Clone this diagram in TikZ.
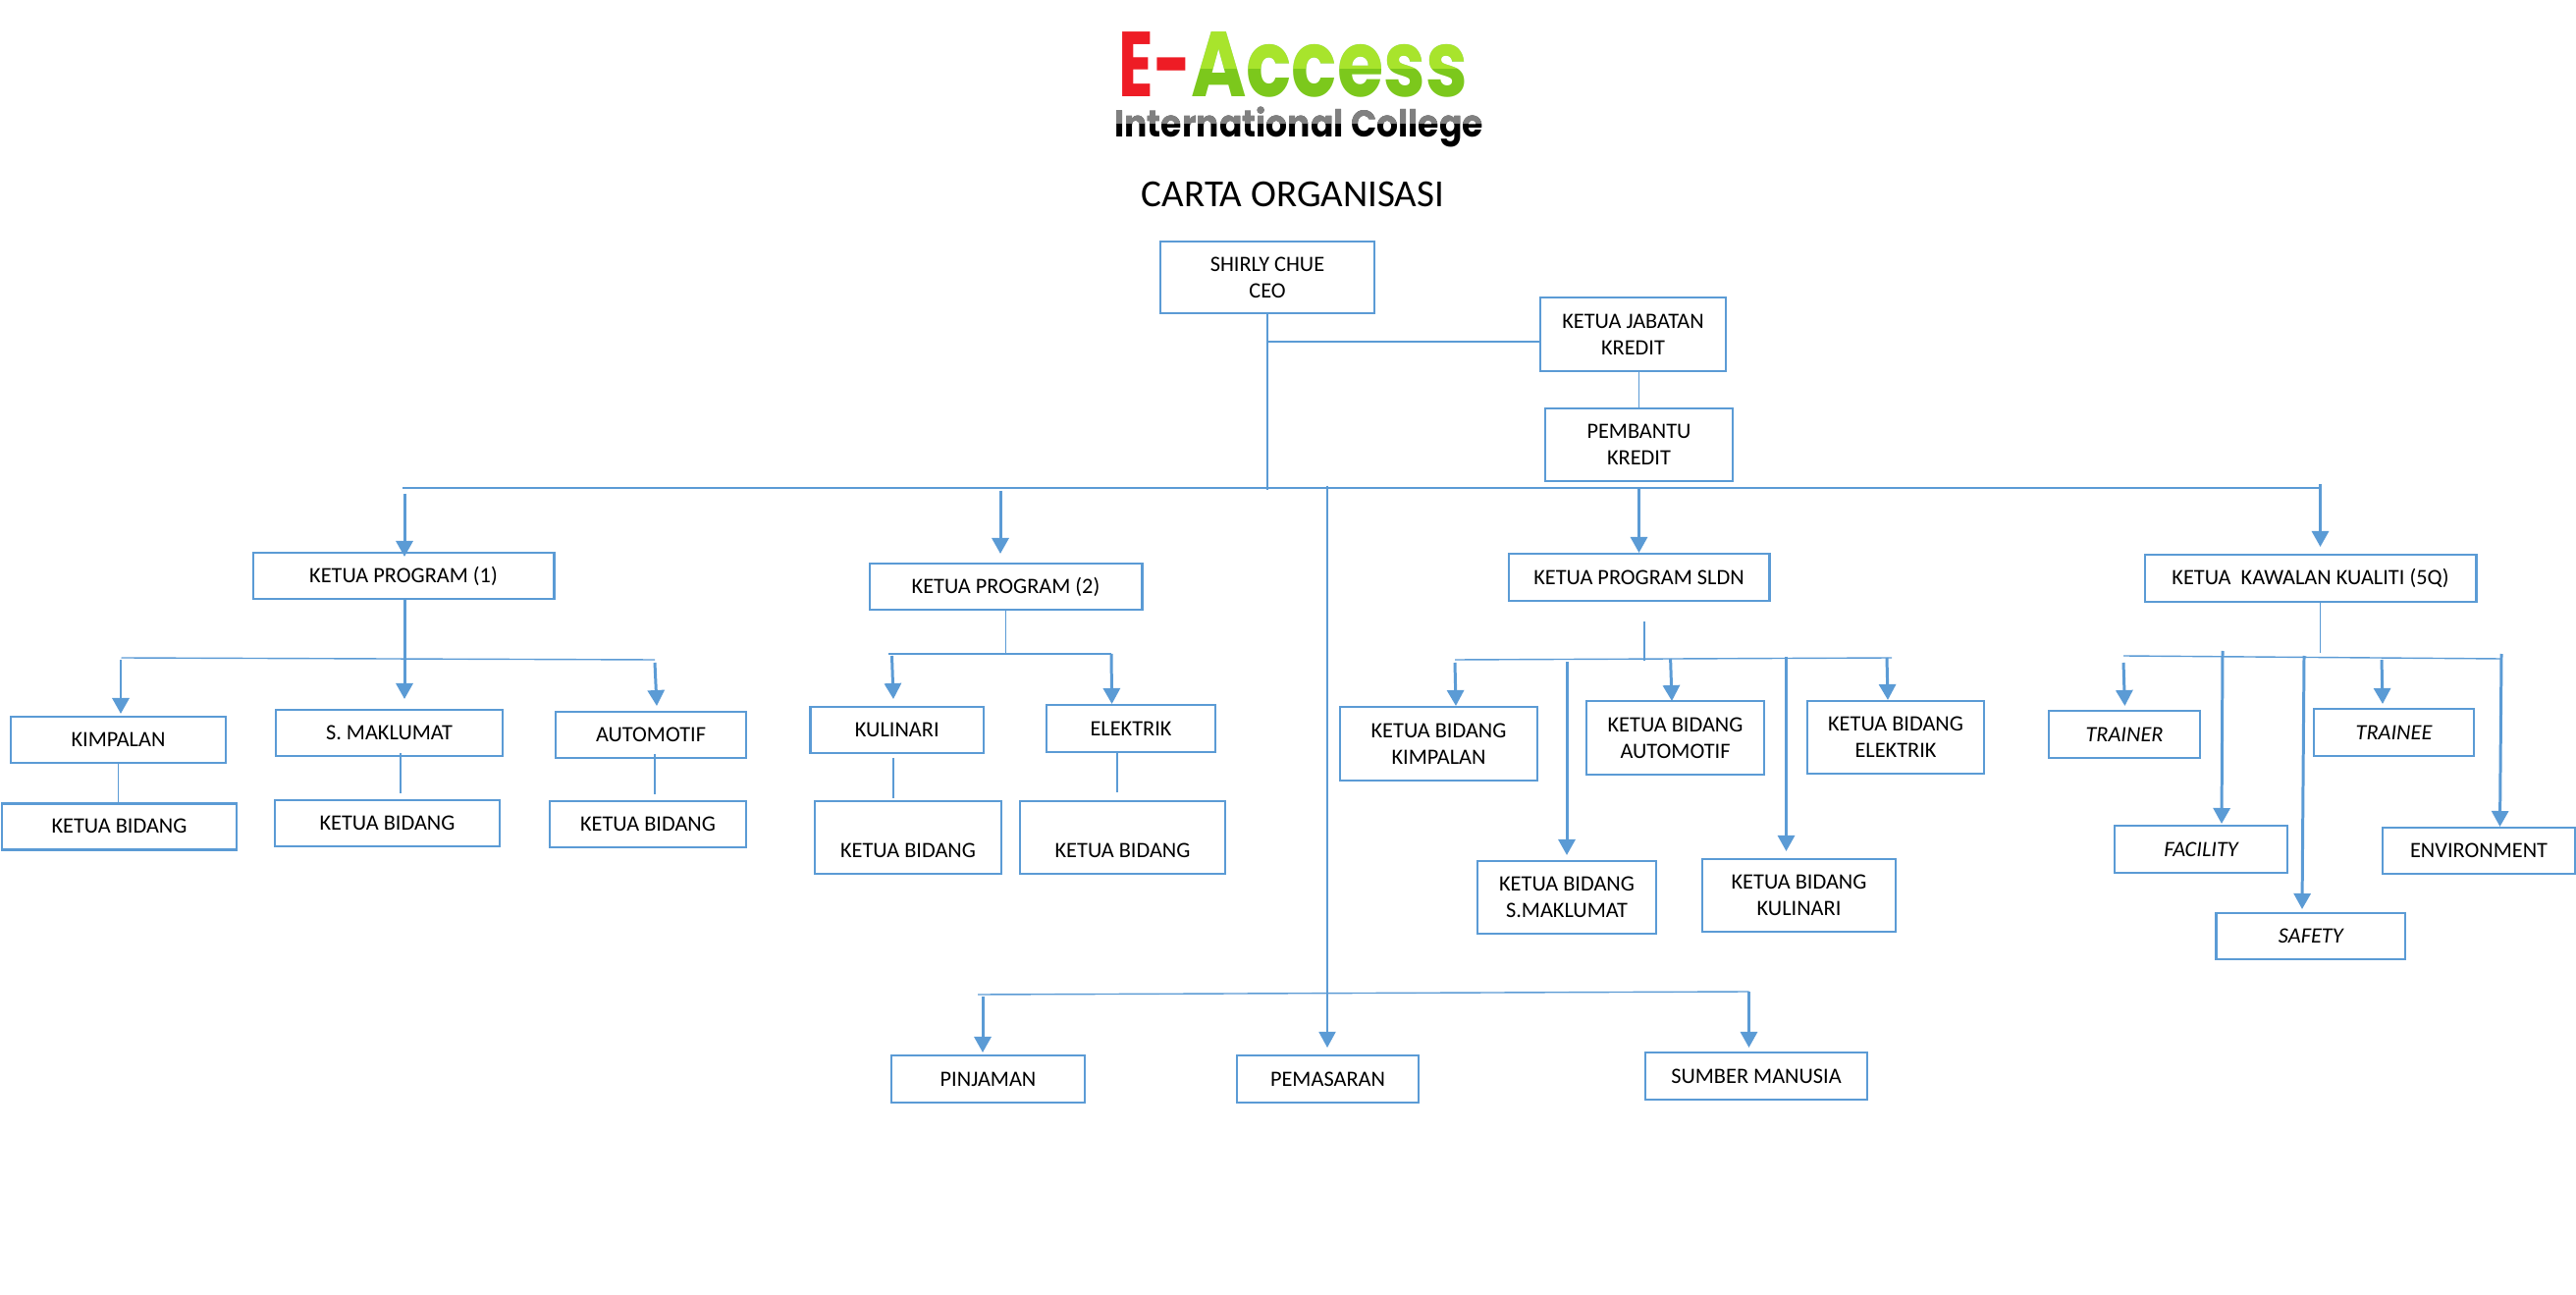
\documentclass[tikz,border=0pt]{standalone}
\usepackage{fontspec}
\setmainfont{Carlito}
\newfontfamily\logofont{Poppins}
\usetikzlibrary{arrows.meta}
\definecolor{biru}{HTML}{5B9BD5}
\definecolor{hijauTua}{HTML}{7CC81C}
\definecolor{hijauMuda}{HTML}{A8E42C}
\definecolor{merahLogo}{HTML}{EE1C25}
\tikzset{
  kotak/.style 2 args={draw=biru, line width=0.8pt, inner sep=0pt, outer sep=0pt, align=center,
    font=\fontsize{6.35}{7.6}\selectfont, minimum width=#1cm, minimum height=#2cm},
  garis/.style={draw=biru, line width=0.4pt},
  panah/.style={draw=biru, line width=0.85pt, -{Triangle[length=1.6mm,width=1.7mm]}},
  panahNipis/.style={draw=biru, line width=0.5pt, -{Triangle[length=1.6mm,width=1.7mm]}}
}
\begin{document}
\begin{tikzpicture}[x=0.01cm, y=-0.01cm]
    \useasboundingbox (0,0) rectangle (2624,1319);
    \fill[white] (0,0) rectangle (2624,1319);

    % 1. Logo dan tajuk
    \node[anchor=base west, text=merahLogo, text depth=0pt, font=\logofont\bfseries\fontsize{26.7}{30}\selectfont, xscale=0.70, transform shape] (logoE) at (1131,99) {E-};
    \node[anchor=base west, text=hijauTua, text depth=0pt, font=\logofont\bfseries\fontsize{26.7}{30}\selectfont, xscale=0.816, transform shape] (logoAccess) at (1203,99) {Access};
    \fill[hijauMuda, blend mode=lighten] (1211,20) rectangle (1510,70);
    \node[anchor=base west, font=\logofont\bfseries\fontsize{10.8}{12}\selectfont, xscale=0.91, transform shape] (logoCollege) at (1124,140) {International College};
    \fill[gray, blend mode=lighten] (1120,108) rectangle (1520,126);
    \node[font=\fontsize{11.1}{13}\selectfont] (tajuk) at (1317,198) {CARTA ORGANISASI};

    % 2. Kotak atasan
    \node[kotak={2.18}{0.73}] (ceo) at (1291,282.5) {SHIRLY CHUE\\CEO};
    \node[kotak={1.89}{0.75}] (jabatan) at (1663.5,340.5) {KETUA JABATAN\\KREDIT};
    \node[kotak={1.91}{0.74}] (pembantu) at (1669.5,453) {PEMBANTU\\KREDIT};

    % 3. Ketua program
    \node[kotak={3.06}{0.47}] (prog1) at (411,586.5) {KETUA PROGRAM (1)};
    \node[kotak={2.77}{0.47}] (prog2) at (1024.5,597.5) {KETUA PROGRAM (2)};
    \node[kotak={2.65}{0.48}] (sldn) at (1669.5,588) {KETUA PROGRAM SLDN};
    \node[kotak={3.37}{0.48}] (kualiti) at (2353.5,589) {KETUA\ \ KAWALAN KUALITI (5Q)};

    % 4. Bawah program (1)
    \node[kotak={2.19}{0.47}] (kimpalan) at (120.5,753.5) {KIMPALAN};
    \node[kotak={2.39}{0.47}] (bidKimpalan) at (121.5,841.75) {KETUA BIDANG};
    \node[kotak={2.31}{0.47}] (maklumat) at (396.5,746.5) {S. MAKLUMAT};
    \node[kotak={2.29}{0.47}] (bidMaklumat) at (394.5,838.5) {KETUA BIDANG};
    \node[kotak={1.94}{0.47}] (automotif) at (663,748.5) {AUTOMOTIF};
    \node[kotak={2.00}{0.47}] (bidAutomotif) at (660,839.5) {KETUA BIDANG};

    % 5. Bawah program (2)
    \node[kotak={1.765}{0.47}] (kulinari) at (913.75,743.5) {KULINARI};
    \node[kotak={1.90}{0.74}] (bidKulinari) at (925,853) {\vphantom{K}\\KETUA BIDANG};
    \node[kotak={1.72}{0.48}] (elektrik) at (1152,742) {ELEKTRIK};
    \node[kotak={2.09}{0.74}] (bidElektrik) at (1143.5,853) {\vphantom{K}\\KETUA BIDANG};

    % 6. Bawah program SLDN
    \node[kotak={2.01}{0.75}] (sKimpalan) at (1465.5,757.5) {KETUA BIDANG\\KIMPALAN};
    \node[kotak={1.81}{0.75}] (sAutomotif) at (1706.5,751.5) {KETUA BIDANG\\AUTOMOTIF};
    \node[kotak={1.80}{0.74}] (sElektrik) at (1931,751) {KETUA BIDANG\\ELEKTRIK};
    \node[kotak={1.82}{0.74}] (sMaklumat) at (1596,914) {KETUA BIDANG\\S.MAKLUMAT};
    \node[kotak={1.97}{0.74}] (sKulinari) at (1832.5,912) {KETUA BIDANG\\KULINARI};

    % 7. Bawah kawalan kualiti
    \node[kotak={1.54}{0.48}] (trainer) at (2164,748) {\itshape TRAINER};
    \node[kotak={1.63}{0.48}] (trainee) at (2438.5,746) {\itshape TRAINEE};
    \node[kotak={1.76}{0.48}] (facility) at (2242,865) {\itshape FACILITY};
    \node[kotak={1.925}{0.47}] (safety) at (2353.75,953.5) {\itshape SAFETY};
    \node[kotak={1.96}{0.47}] (environment) at (2525,866.5) {ENVIRONMENT};

    % 8. Barisan bawah
    \node[kotak={1.97}{0.48}] (pinjaman) at (1006.5,1099) {PINJAMAN};
    \node[kotak={1.85}{0.48}] (pemasaran) at (1352.5,1099) {PEMASARAN};
    \node[kotak={2.26}{0.48}] (sumber) at (1789,1096) {SUMBER MANUSIA};

    % 9. Titik hujung garisan
    \coordinate (ceoBawah) at (1291,499);
    \coordinate (ceoCabang) at (1291,348);
    \coordinate (utamaKiri) at (410,497);
    \coordinate (utamaKanan) at (2364,497);
    \coordinate (tengahAtas) at (1352,495);
    \coordinate (tengahTip) at (1352,1067);
    \coordinate (prog1Atas) at (412,503);
    \coordinate (prog1Tip) at (412,567);
    \coordinate (prog2Atas) at (1019,500);
    \coordinate (prog2Tip) at (1019,564);
    \coordinate (sldnAtas) at (1669.5,498);
    \coordinate (sldnTip) at (1669.5,563);
    \coordinate (kualitiAtas) at (2363.5,493);
    \coordinate (kualitiTip) at (2363.5,557);

    \coordinate (p1Kiri) at (123.5,670);
    \coordinate (p1Kanan) at (667,672);
    \coordinate (p1Tip) at (412,712);
    \coordinate (kimAtas) at (123,672);
    \coordinate (kimTip) at (123,727);
    \coordinate (autoAtas) at (667,675);
    \coordinate (autoTip) at (669,719);
    \coordinate (makA) at (408,767);
    \coordinate (makB) at (408,808);
    \coordinate (autoA) at (667,768);
    \coordinate (autoB) at (667,809);

    \coordinate (p2Bawah) at (1024.5,666);
    \coordinate (p2Kiri) at (905,666);
    \coordinate (p2Kanan) at (1132,666);
    \coordinate (kulAtas) at (908.5,668);
    \coordinate (kulTip) at (910,712);
    \coordinate (eleTip) at (1132.6,717);
    \coordinate (kulA) at (910,772);
    \coordinate (kulB) at (910,813);
    \coordinate (eleA) at (1138,766);
    \coordinate (eleB) at (1138,807);

    \coordinate (s3Atas) at (1675,633);
    \coordinate (s3Bawah) at (1675,673);
    \coordinate (s3Kiri) at (1482,672);
    \coordinate (s3Kanan) at (1927,670);
    \coordinate (sKimAtas) at (1482,675);
    \coordinate (sKimTip) at (1483,719);
    \coordinate (sMakAtas) at (1596,674);
    \coordinate (sMakTip) at (1596,871);
    \coordinate (sAutoAtas) at (1701.6,671);
    \coordinate (sAutoTip) at (1703,714);
    \coordinate (sKulAtas) at (1819.5,669);
    \coordinate (sKulTip) at (1819.5,867);
    \coordinate (sEleAtas) at (1922,670);
    \coordinate (sEleTip) at (1923,713);

    \coordinate (kqBawah) at (2363.5,665);
    \coordinate (kqKiri) at (2163,668);
    \coordinate (kqKanan) at (2548,671);
    \coordinate (trnAtas) at (2163,675);
    \coordinate (trnTip) at (2164.4,719);
    \coordinate (facAtas) at (2264,663);
    \coordinate (facTip) at (2263,839);
    \coordinate (safAtas) at (2347,668);
    \coordinate (safTip) at (2345,926);
    \coordinate (treAtas) at (2426,672);
    \coordinate (treTip) at (2427,717);
    \coordinate (envAtas) at (2548,666);
    \coordinate (envTip) at (2546.5,842);

    \coordinate (bawahKiri) at (996,1013);
    \coordinate (bawahKanan) at (1781.5,1010);
    \coordinate (pinAtas) at (1001,1015);
    \coordinate (pinTip) at (1001,1072);
    \coordinate (sumTip) at (1781.5,1067);

    % 10. Garisan nipis
    \draw[garis] (ceo.south) -- (ceoBawah);
    \draw[garis] (ceoCabang) -- (ceoCabang -| jabatan.west);
    \draw[garis] (jabatan.south -| pembantu.north) -- (pembantu.north);
    \draw[garis] (utamaKiri) -- (utamaKanan);
    \draw[garis] (p1Kiri) -- (p1Kanan);
    \draw[garis] (kimpalan.south) -- (bidKimpalan.north -| kimpalan.south);
    \draw[garis] (makA) -- (makB);
    \draw[garis] (autoA) -- (autoB);
    \draw[garis] (prog2.south) -- (p2Bawah);
    \draw[garis] (p2Kiri) -- (p2Kanan);
    \draw[garis] (kulA) -- (kulB);
    \draw[garis] (eleA) -- (eleB);
    \draw[garis] (s3Atas) -- (s3Bawah);
    \draw[garis] (s3Kiri) -- (s3Kanan);
    \draw[garis] (kualiti.south -| kqBawah) -- (kqBawah);
    \draw[garis] (kqKiri) -- (kqKanan);
    \draw[garis] (bawahKiri) -- (bawahKanan);

    % 11. Anak panah
    \draw[panah] (prog1Atas) -- (prog1Tip);
    \draw[panah] (prog2Atas) -- (prog2Tip);
    \draw[panah] (sldnAtas) -- (sldnTip);
    \draw[panah] (kualitiAtas) -- (kualitiTip);
    \draw[panah] (prog1.south -| p1Tip) -- (p1Tip);
    \draw[panah] (kimAtas) -- (kimTip);
    \draw[panah] (autoAtas) -- (autoTip);
    \draw[panah] (kulAtas) -- (kulTip);
    \draw[panah] (p2Kanan) -- (eleTip);
    \draw[panah] (sKimAtas) -- (sKimTip);
    \draw[panah] (sMakAtas) -- (sMakTip);
    \draw[panah] (sAutoAtas) -- (sAutoTip);
    \draw[panah] (sKulAtas) -- (sKulTip);
    \draw[panah] (sEleAtas) -- (sEleTip);
    \draw[panah] (trnAtas) -- (trnTip);
    \draw[panah] (facAtas) -- (facTip);
    \draw[panah] (safAtas) -- (safTip);
    \draw[panah] (treAtas) -- (treTip);
    \draw[panah] (envAtas) -- (envTip);
    \draw[panah] (pinAtas) -- (pinTip);
    \draw[panahNipis] (tengahAtas) -- (tengahTip);
    \draw[panah] (bawahKanan) -- (sumTip);

\end{tikzpicture}
\end{document}
